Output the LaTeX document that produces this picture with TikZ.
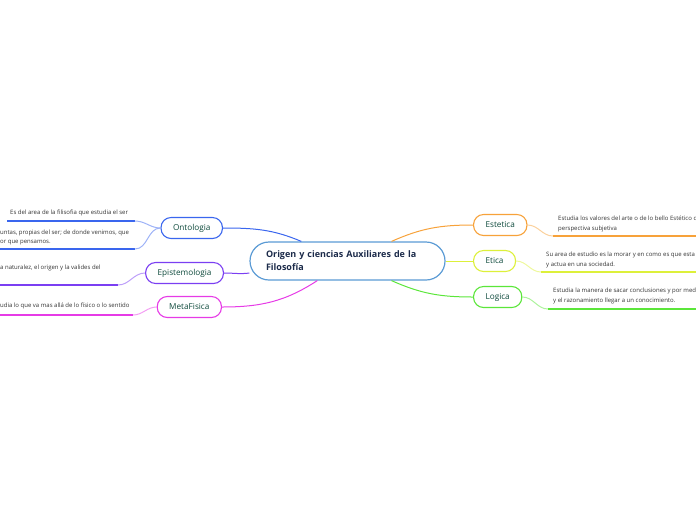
\documentclass[tikz,border=0pt]{standalone}
\usepackage{fontspec}
\setmainfont{Open Sans}
\usepackage{tikz}
\definecolor{titletext}{HTML}{1C2B4A}
\definecolor{topicgreen}{HTML}{0E4A3C}
\definecolor{subgray}{HTML}{333333}
\definecolor{centerblue}{HTML}{5B9BD5}
\definecolor{ontoblue}{HTML}{3A66EE}
\definecolor{epipurple}{HTML}{7B3FF2}
\definecolor{metapink}{HTML}{E63BE6}
\definecolor{estorange}{HTML}{F7A23A}
\definecolor{eticyellow}{HTML}{DDF03A}
\definecolor{logigreen}{HTML}{5BE63A}
\tikzset{
central/.style={rectangle, rounded corners=19pt, draw=centerblue, line width=1.2pt, fill=white, minimum width=195pt, minimum height=38pt, text width=163pt, align=left, text=titletext, font=\fontsize{9}{13}\selectfont\bfseries},
main_topic/.style={rectangle, rounded corners=10pt, draw, line width=1.1pt, fill=white, minimum height=21pt, inner xsep=12pt, text=topicgreen, font=\fontsize{8.2}{10}\selectfont},
sub_text/.style={anchor=west, inner sep=0pt, align=left, text=subgray, font=\fontsize{6}{9.5}\selectfont},
sub_line/.style={line width=1.5pt},
link/.style={line width=1pt}
}

\begin{document}
\begin{tikzpicture}[x=1pt, y=-1pt]
    \useasboundingbox (0,0) rectangle (696,520);
    \node[central] (centro) at (347.5,261) {Origen y ciencias Auxiliares de la\\Filosofía};

    % ramas de la izquierda
    \node[main_topic, draw=ontoblue, anchor=east] (ontologia) at (223,228) {Ontologia};
    \node[main_topic, draw=epipurple, anchor=east] (epistemologia) at (224,273) {Epistemologia};
    \node[main_topic, draw=metapink, anchor=east] (metafisica) at (222,307) {MetaFisica};

    % ramas de la derecha
    \node[main_topic, draw=estorange, anchor=west] (estetica) at (473,225) {Estetica};
    \node[main_topic, draw=eticyellow, anchor=west] (etica) at (473,261) {Etica};
    \node[main_topic, draw=logigreen, anchor=west] (logica) at (473,297) {Logica};

    \draw[link, ontoblue] (ontologia.east) to[out=0, in=157] (centro.157);
    \draw[link, epipurple] (epistemologia.east) to[out=0, in=187] (centro.187);
    \draw[link, metapink] (metafisica.east) to[out=0, in=213] (centro.213);
    \draw[link, estorange] (estetica.west) to[out=180, in=24] (centro.24);
    \draw[link, eticyellow] (etica.west) -- (centro.east);
    \draw[link, logigreen] (logica.west) to[out=180, in=-24] (centro.-24);

    % textos de Ontologia
    \node[sub_text] (onto_1) at (10,213) {Es del area de la filisofia que estudia el ser};
    \coordinate (onto_1_a) at (7,221);
    \coordinate (onto_1_b) at (135,221);
    \draw[sub_line, ontoblue] (onto_1_a) -- (onto_1_b);
    \draw[link, ontoblue!50] (onto_1_b) to[out=0, in=180] (ontologia.west);

    \node[sub_text] (onto_2) at (0,237.5) {untas, propias del ser; de donde venimos, que\\or que pensamos.};
    \coordinate (onto_2_a) at (0,249);
    \coordinate (onto_2_b) at (135,249);
    \draw[sub_line, ontoblue] (onto_2_a) -- (onto_2_b);
    \draw[link, ontoblue!50] (onto_2_b) to[out=0, in=180] (ontologia.west);

    % textos de Epistemologia y MetaFisica
    \node[sub_text] (epis_1) at (0,268) {a naturalez, el origen y la valides del};
    \coordinate (epis_1_a) at (0,285);
    \coordinate (epis_1_b) at (118,285);
    \draw[sub_line, epipurple] (epis_1_a) -- (epis_1_b);
    \draw[link, epipurple!50] (epis_1_b) to[out=0, in=180] (epistemologia.west);

    \node[sub_text] (meta_1) at (0,306) {udia lo que va mas allá de lo físico o lo sentido};
    \coordinate (meta_1_a) at (0,315);
    \coordinate (meta_1_b) at (133,315);
    \draw[sub_line, metapink] (meta_1_a) -- (meta_1_b);
    \draw[link, metapink!50] (meta_1_b) to[out=0, in=180] (metafisica.west);

    % textos de la derecha
    \node[sub_text] (este_1) at (558,224) {Estudia los valores del arte o de lo bello Estético d\\perspectiva subjetiva};
    \coordinate (este_1_a) at (553,236);
    \coordinate (este_1_b) at (696,236);
    \draw[sub_line, estorange] (este_1_a) -- (este_1_b);
    \draw[link, estorange!50] (estetica.east) to[out=0, in=180] (este_1_a);

    \node[sub_text] (etic_1) at (546,260) {Su area de estudio es la morar y en como es que esta\\y actua en una sociedad.};
    \coordinate (etic_1_a) at (541,272);
    \coordinate (etic_1_b) at (696,272);
    \draw[sub_line, eticyellow] (etic_1_a) -- (etic_1_b);
    \draw[link, eticyellow!50] (etica.east) to[out=0, in=180] (etic_1_a);

    \node[sub_text] (logi_1) at (553,296) {Estudia la manera de sacar conclusiones y por med\\y el razonamiento llegar a un conocimiento.};
    \coordinate (logi_1_a) at (548,309);
    \coordinate (logi_1_b) at (696,309);
    \draw[sub_line, logigreen] (logi_1_a) -- (logi_1_b);
    \draw[link, logigreen!50] (logica.east) to[out=0, in=180] (logi_1_a);
\end{tikzpicture}
\end{document}
